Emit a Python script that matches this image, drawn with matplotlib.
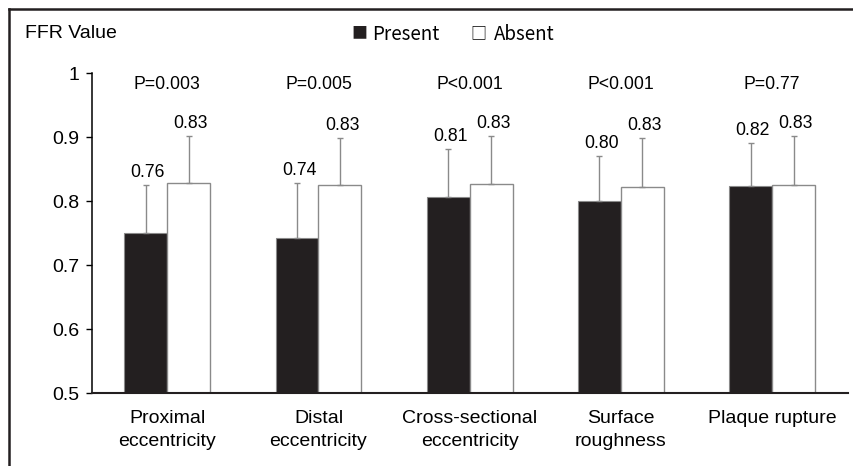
import numpy as np
import matplotlib
matplotlib.use('Agg')
import matplotlib.pyplot as plt
from matplotlib.lines import Line2D

categories = ['Proximal\neccentricity', 'Distal\neccentricity', 'Cross-sectional\neccentricity',
              'Surface\nroughness', 'Plaque rupture']
present = [0.750, 0.743, 0.807, 0.800, 0.824]
absent = [0.828, 0.826, 0.827, 0.823, 0.826]
present_sd = [0.075, 0.085, 0.074, 0.070, 0.067]
absent_sd = [0.074, 0.073, 0.075, 0.076, 0.076]
present_labels = ['0.76', '0.74', '0.81', '0.80', '0.82']
absent_labels = ['0.83', '0.83', '0.83', '0.83', '0.83']
p_values = ['P=0.003', 'P=0.005', 'P<0.001', 'P<0.001', 'P=0.77']

plt.rcParams['font.family'] = ['Liberation Sans', 'DejaVu Sans']

fig = plt.figure(figsize=(8.54, 4.66), dpi=100)
ax = fig.add_axes([91.7 / 854, 1 - 393.3 / 466, (847.7 - 91.7) / 854, (393.3 - 73.3) / 466])

x = np.arange(len(categories))
w = 0.284
err_kw = dict(ecolor='#8a8a8a', elinewidth=1, capsize=2, capthick=1)

ax.bar(x - w / 2, present, w, bottom=0, color='#231f20', edgecolor='#8a8a8a', linewidth=0.8,
       yerr=[np.zeros(5), present_sd], error_kw=err_kw)
ax.bar(x + w / 2, absent, w, bottom=0, color='white', edgecolor='#8a8a8a', linewidth=1,
       yerr=[np.zeros(5), absent_sd], error_kw=err_kw)

for i in range(len(categories)):
    ax.annotate(present_labels[i], (x[i] - w / 2, present[i] + present_sd[i]), xytext=(1.5, 9),
                textcoords='offset points', ha='center', va='center', fontsize=12.7)
    ax.annotate(absent_labels[i], (x[i] + w / 2, absent[i] + absent_sd[i]), xytext=(1.5, 9),
                textcoords='offset points', ha='center', va='center', fontsize=12.7)
    ax.text(x[i], 0.983, p_values[i], ha='center', va='center', fontsize=12.7)

ax.set_xlim(-0.5, 4.5)
ax.set_ylim(0.5, 1.0)
ax.set_yticks([0.5, 0.6, 0.7, 0.8, 0.9, 1.0])
ax.set_yticklabels(['0.5', '0.6', '0.7', '0.8', '0.9', '1'])
ax.set_xticks(x)
ax.set_xticklabels(categories, fontsize=14, linespacing=1.45, va='top')
ax.tick_params(axis='x', length=0, pad=12)
ax.tick_params(axis='y', length=4, width=1, pad=5, labelsize=14)

ax.spines['top'].set_visible(False)
ax.spines['right'].set_visible(False)
ax.spines['left'].set_linewidth(1.1)
ax.spines['bottom'].set_linewidth(1.5)
ax.spines['bottom'].set_color('#231f20')

cjk = ['Noto Sans CJK KR', 'DejaVu Sans']
ty = 1 - 34 / 466
fig.text(25 / 854, ty, 'FFR Value', fontsize=14, va='center', ha='left')
fig.text(351.5 / 854, ty, '■', fontsize=11.5, va='center', ha='left', family=cjk, color='#231f20')
fig.text(372.5 / 854, ty, 'Present', fontsize=13.5, va='center', ha='left', family=cjk)
fig.text(470.5 / 854, ty, '□', fontsize=11.5, va='center', ha='left', family=cjk)
fig.text(494 / 854, ty, 'Absent', fontsize=13.5, va='center', ha='left', family=cjk)

# outer frame (top and left edges only visible in the crop)
fig.add_artist(Line2D([8.5 / 854, 1], [1 - 9 / 466, 1 - 9 / 466], transform=fig.transFigure,
                      color='#231f20', linewidth=1.8))
fig.add_artist(Line2D([8.5 / 854, 8.5 / 854], [0, 1 - 9 / 466], transform=fig.transFigure,
                      color='#231f20', linewidth=1.8))

fig.savefig('out.png', dpi=100)
